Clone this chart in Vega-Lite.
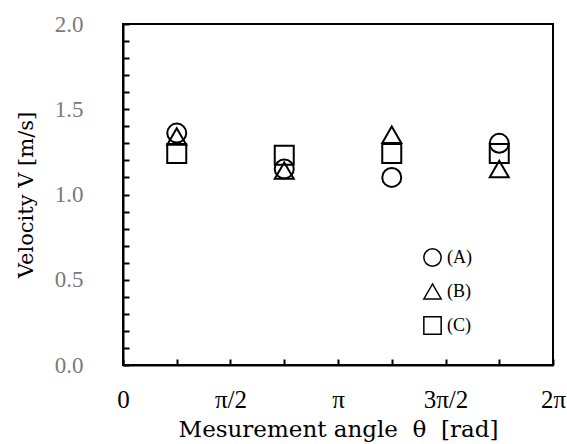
{
  "$schema": "https://vega.github.io/schema/vega-lite/v6.json",
  "width": 430,
  "height": 341,
  "autosize": {"type": "none"},
  "padding": {"left": 123, "top": 24, "right": 14, "bottom": 79},
  "background": "white",
  "config": {
    "view": {"stroke": "black", "strokeWidth": 2},
    "font": "Liberation Serif"
  },
  "data": {
    "values": [
      {"angle": 0.785398, "V": 1.36, "series": "(A)"},
      {"angle": 2.356194, "V": 1.15, "series": "(A)"},
      {"angle": 3.926991, "V": 1.10, "series": "(A)"},
      {"angle": 5.497787, "V": 1.30, "series": "(A)"},
      {"angle": 0.785398, "V": 1.34, "series": "(B)"},
      {"angle": 2.356194, "V": 1.14, "series": "(B)"},
      {"angle": 3.926991, "V": 1.35, "series": "(B)"},
      {"angle": 5.497787, "V": 1.15, "series": "(B)"},
      {"angle": 0.785398, "V": 1.24, "series": "(C)"},
      {"angle": 2.356194, "V": 1.23, "series": "(C)"},
      {"angle": 3.926991, "V": 1.24, "series": "(C)"},
      {"angle": 5.497787, "V": 1.24, "series": "(C)"}
    ]
  },
  "mark": {"type": "point", "filled": false, "color": "black", "strokeWidth": 2, "size": 361, "opacity": 1},
  "encoding": {
    "x": {
      "field": "angle",
      "type": "quantitative",
      "scale": {"domain": [0, 6.283185], "nice": false, "zero": false},
      "axis": {
        "values": [0, 0.785398, 1.570796, 2.356194, 3.141593, 3.926991, 4.712389, 5.497787, 6.283185],
        "labelExpr": "datum.value < 0.1 ? '0' : abs(datum.value - 1.5708) < 0.01 ? 'π/2' : abs(datum.value - 3.1416) < 0.01 ? 'π' : abs(datum.value - 4.7124) < 0.01 ? '3π/2' : abs(datum.value - 6.2832) < 0.01 ? '2π' : ''",
        "grid": false,
        "domainColor": "black",
        "domainWidth": 2,
        "tickColor": "black",
        "tickWidth": 2,
        "tickSize": -6,
        "labelPadding": 28,
        "labelFont": "Liberation Serif",
        "labelFontSize": 25,
        "labelColor": "black",
        "labelFlush": false,
        "labelOverlap": false,
        "title": "Mesurement angle\u00a0\u00a0θ\u00a0\u00a0[rad]",
        "titleFont": "DejaVu Serif",
        "titleFontSize": 23,
        "titleFontWeight": "normal",
        "titleColor": "black",
        "titlePadding": 6
      }
    },
    "y": {
      "field": "V",
      "type": "quantitative",
      "scale": {"domain": [0, 2], "nice": false, "zero": false},
      "axis": {
        "values": [0, 0.1, 0.2, 0.3, 0.4, 0.5, 0.6, 0.7, 0.8, 0.9, 1.0, 1.1, 1.2, 1.3, 1.4, 1.5, 1.6, 1.7, 1.8, 1.9, 2.0],
        "labelExpr": "abs(datum.value * 2 - round(datum.value * 2)) < 0.01 ? format(datum.value, '.1f') : ''",
        "grid": false,
        "domainColor": "black",
        "domainWidth": 2,
        "tickColor": "black",
        "tickWidth": 2,
        "tickSize": -6,
        "labelPadding": 46,
        "labelFont": "Liberation Serif",
        "labelFontSize": 23,
        "labelColor": "#7a7a7a",
        "labelFlush": false,
        "labelOverlap": false,
        "title": "Velocity V [m/s]",
        "titleFont": "DejaVu Serif",
        "titleFontSize": 21,
        "titleFontWeight": "normal",
        "titleColor": "black",
        "titlePadding": 18
      }
    },
    "shape": {
      "field": "series",
      "type": "nominal",
      "scale": {"domain": ["(A)", "(B)", "(C)"], "range": ["circle", "triangle-up", "square"]},
      "legend": {
        "orient": "none",
        "legendX": 300,
        "legendY": 224,
        "title": null,
        "symbolSize": 300,
        "symbolStrokeWidth": 1.5,
        "symbolStrokeColor": "black",
        "symbolFillColor": "transparent",
        "labelFont": "Liberation Serif",
        "labelFontSize": 18,
        "labelColor": "black",
        "rowPadding": 11,
        "labelOffset": 5
      }
    }
  }
}
